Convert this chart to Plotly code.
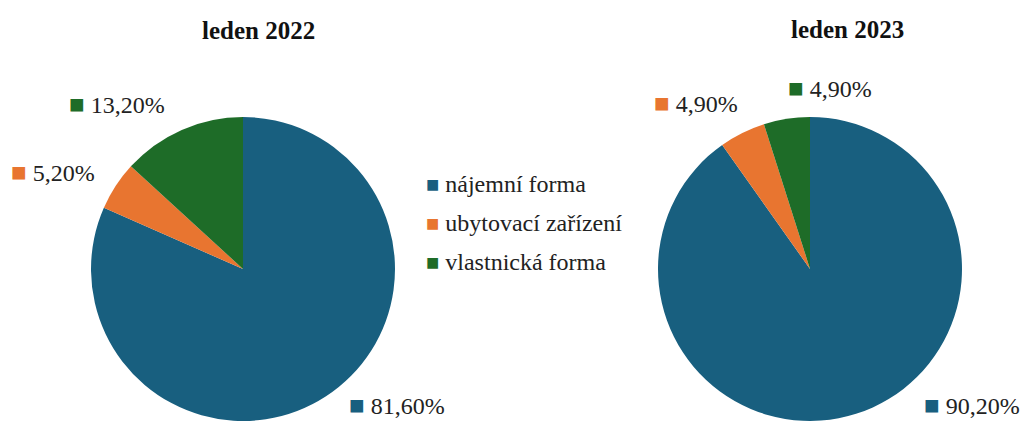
import plotly.graph_objects as go

categories = ["nájemní forma", "ubytovací zařízení", "vlastnická forma"]
years = ["leden 2022", "leden 2023"]
share_2022 = [81.6, 5.2, 13.2]
share_2023 = [90.2, 4.9, 4.9]
colors = ["#185f7f", "#e87530", "#1e6c28"]

W, H = 1025, 421


def px(x, y):
    # pixel position -> paper coords
    return x / W, 1 - y / H


def pct(v):
    return f"{v:.2f}".replace(".", ",") + "%"


fig = go.Figure()

# pie domains (pixels): left edge, right edge, top
pie_boxes = [(88, 398, 117), (655, 965, 117)]
for vals, (x0, x1, top) in zip([share_2022, share_2023], pie_boxes):
    fig.add_trace(go.Pie(
        labels=categories,
        values=vals,
        marker=dict(colors=colors, line=dict(width=0)),
        sort=False,
        direction="clockwise",
        rotation=0,
        textinfo="none",
        hoverinfo="label+percent",
        showlegend=False,
        domain=dict(x=[x0 / W, x1 / W], y=[0, 1 - top / H]),
    ))

# titles
title_pos = [(258, 30), (847, 29)]
for t, (x, y) in zip(years, title_pos):
    ax, ay = px(x, y)
    fig.add_annotation(text="<b>" + t + "</b>", x=ax, y=ay, xref="paper", yref="paper",
                       showarrow=False, xanchor="center", yanchor="middle",
                       font=dict(family="Liberation Serif", size=25, color="#111111"))

# slice value labels (left anchor at square)
label_pos = {
    0: [(347, 405), (9, 172), (67, 105)],
    1: [(922, 405), (652, 104), (786, 88)],
}
for i, vals in enumerate([share_2022, share_2023]):
    for j, v in enumerate(vals):
        x, y = label_pos[i][j]
        ax, ay = px(x, y)
        fig.add_annotation(
            text=f"<span style='color:{colors[j]};font-size:26px'>■</span> {pct(v)}",
            x=ax, y=ay, xref="paper", yref="paper", showarrow=False,
            xanchor="left", yanchor="middle",
            font=dict(family="Liberation Serif", size=24, color="#222222"))

# legend
legend_rows = [184, 223, 262]
for j, c in enumerate(categories):
    ax, ay = px(424, legend_rows[j])
    fig.add_annotation(
        text=f"<span style='color:{colors[j]};font-size:22px'>■</span> {c}",
        x=ax, y=ay, xref="paper", yref="paper", showarrow=False,
        xanchor="left", yanchor="middle",
        font=dict(family="Liberation Serif", size=24, color="#222222"))

fig.update_layout(
    width=W, height=H,
    margin=dict(l=0, r=0, t=0, b=0),
    paper_bgcolor="white",
    plot_bgcolor="white",
    font=dict(family="Liberation Serif"),
)

fig.write_html("out.html", config={"displayModeBar": False},
               post_script="document.body.style.margin='0';")
